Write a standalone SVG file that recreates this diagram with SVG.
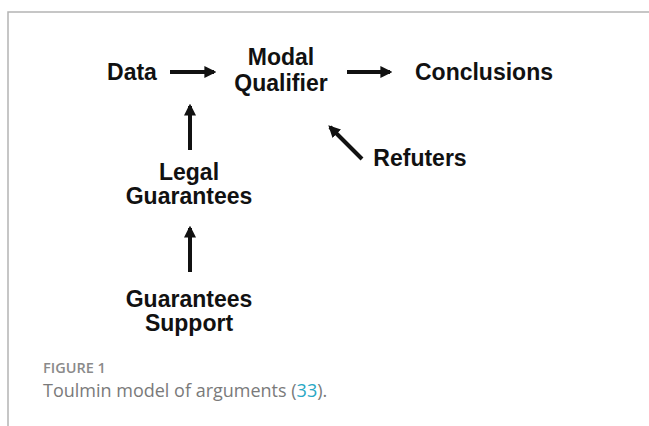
<svg xmlns="http://www.w3.org/2000/svg" width="649" height="426" viewBox="0 0 649 426">
  <style>
    .lbl { font-family: "Liberation Sans", Arial, sans-serif; font-weight: bold; font-size: 23px; fill: #111; text-anchor: middle; }
    .edge { stroke: #111; stroke-width: 4; fill: none; marker-end: url(#head); }
    .frame { stroke: #b4b4b4; stroke-width: 1.5; fill: none; }
    .cap-title { font-family: "Open Sans", "Liberation Sans", sans-serif; font-weight: 600; font-size: 14.5px; fill: #8a8a8a; }
    .cap-text { font-family: "Open Sans", "Liberation Sans", sans-serif; font-size: 18px; fill: #7a7a7a; }
    .ref { fill: #2aa7c4; }
  </style>
  <defs>
    <marker id="head" viewBox="0 0 10 10" refX="8" refY="5" markerWidth="3" markerHeight="3" orient="auto" markerUnits="strokeWidth">
      <path d="M0,0 L10,5 L0,10 z" fill="#111"/>
    </marker>
  </defs>
  <rect width="649" height="426" fill="#fff"/>
  <!-- panel frame -->
  <path class="frame" d="M8,426 V12 H649"/>

  <g id="connectors">
    <line class="edge" x1="170" y1="72" x2="214" y2="72"/>
    <line class="edge" x1="347" y1="72" x2="390" y2="72"/>
    <line class="edge" x1="190" y1="150" x2="190" y2="106"/>
    <line class="edge" x1="190" y1="272" x2="190" y2="228"/>
    <line class="edge" x1="362" y1="159" x2="330" y2="127"/>
  </g>

  <g id="data"><text class="lbl" x="132" y="80">Data</text></g>
  <g id="modal-qualifier">
    <text class="lbl" x="281" y="65">Modal</text>
    <text class="lbl" x="281" y="91">Qualifier</text>
  </g>
  <g id="conclusions"><text class="lbl" x="484" y="80">Conclusions</text></g>
  <g id="refuters"><text class="lbl" x="420" y="166">Refuters</text></g>
  <g id="legal-guarantees">
    <text class="lbl" x="189" y="180">Legal</text>
    <text class="lbl" x="189" y="204">Guarantees</text>
  </g>
  <g id="guarantees-support">
    <text class="lbl" x="189" y="307">Guarantees</text>
    <text class="lbl" x="189" y="331">Support</text>
  </g>

  <g id="caption">
    <text class="cap-title" x="43" y="373">FIGURE 1</text>
    <text class="cap-text" x="43" y="397">Toulmin model of arguments (<tspan class="ref">33</tspan>).</text>
  </g>
</svg>
